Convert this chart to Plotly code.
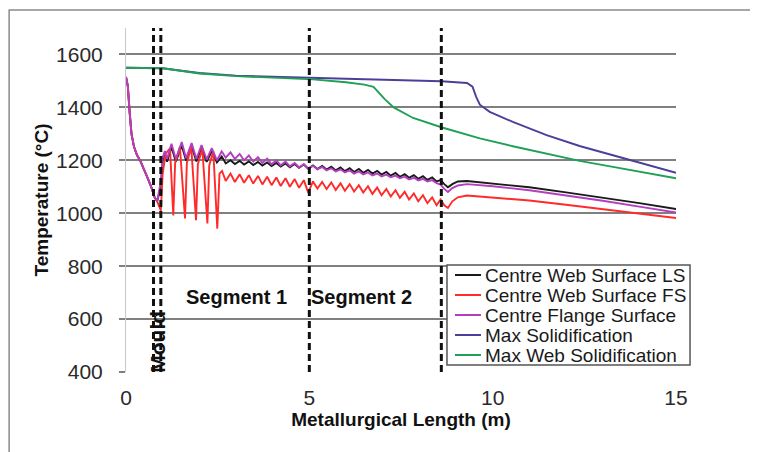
import plotly.graph_objects as go

# ---------------- data ----------------
# mould region (shared by the three surface curves)
mould_x = [0.0, 0.05, 0.10, 0.15, 0.22, 0.30, 0.40, 0.50, 0.60, 0.70, 0.78, 0.85]
mould_t = [1515, 1480, 1380, 1300, 1250, 1220, 1195, 1165, 1130, 1095, 1060, 1045]

# segment 1, first metres (large spray/roll oscillations)
red_early_x = [0.95, 1.00, 1.08, 1.20, 1.29, 1.34, 1.47, 1.61, 1.66, 1.78, 1.91, 1.96,
               2.08, 2.22, 2.27, 2.38, 2.49, 2.55, 2.62]
red_early_t = [1010, 1150, 1225, 1245, 992, 1190, 1250, 980, 1190, 1250, 974, 1185,
               1245, 961, 1180, 1235, 942, 1150, 1160]
surf_early_x = [0.95, 1.00, 1.06, 1.12, 1.24, 1.36, 1.52, 1.64, 1.79, 1.92, 2.06, 2.20,
                2.34, 2.48, 2.61]
black_early_t = [1100, 1200, 1225, 1195, 1250, 1195, 1255, 1198, 1252, 1196, 1245, 1194,
                 1235, 1192, 1215]
purple_early_t = [1120, 1210, 1235, 1205, 1263, 1205, 1269, 1208, 1265, 1205, 1258, 1203,
                  1246, 1200, 1234]

# oscillating part (trough, peak, trough, ...)
osc_x = [2.72, 2.85, 2.97, 3.10, 3.22, 3.35, 3.47, 3.60, 3.72, 3.85, 3.97, 4.10,
         4.22, 4.35, 4.47, 4.60, 4.72, 4.85, 4.97, 5.10, 5.22, 5.35, 5.47, 5.60,
         5.72, 5.85, 5.97, 6.10, 6.22, 6.35, 6.47, 6.60, 6.72, 6.85, 6.97, 7.10,
         7.22, 7.35, 7.47, 7.60, 7.72, 7.85, 7.97, 8.10, 8.22, 8.35, 8.47]
red_osc_t = [1122, 1150, 1118, 1147, 1115, 1144, 1112, 1141, 1109, 1138, 1106, 1135,
             1103, 1132, 1100, 1129, 1096, 1125, 1078, 1120, 1093, 1118, 1091, 1116,
             1088, 1113, 1085, 1110, 1082, 1106, 1078, 1102, 1073, 1097, 1068, 1092,
             1063, 1087, 1058, 1081, 1052, 1075, 1045, 1068, 1038, 1060, 1030]
black_osc_t = [1188, 1200, 1186, 1198, 1184, 1196, 1182, 1194, 1180, 1192, 1178, 1190,
               1176, 1188, 1174, 1186, 1172, 1184, 1168, 1181, 1167, 1179, 1165, 1176,
               1162, 1173, 1159, 1170, 1156, 1167, 1153, 1164, 1150, 1160, 1146, 1156,
               1142, 1152, 1138, 1148, 1134, 1144, 1130, 1140, 1126, 1135, 1120]
purple_osc_t = [1210, 1230, 1205, 1224, 1200, 1218, 1195, 1212, 1190, 1206, 1185, 1200,
                1181, 1195, 1177, 1190, 1173, 1185, 1169, 1179, 1166, 1175, 1162, 1170,
                1158, 1166, 1154, 1162, 1150, 1158, 1147, 1154, 1143, 1150, 1139, 1146,
                1136, 1142, 1132, 1138, 1128, 1134, 1124, 1130, 1120, 1125, 1114]

# segment 3 (after 8.6 m)
tail_x = [8.58, 8.68, 8.78, 8.90, 9.05, 9.30, 10.0, 11.0, 12.0, 13.0, 14.0, 15.0]
red_tail_t = [1052, 1030, 1020, 1045, 1060, 1067, 1060, 1048, 1032, 1015, 999, 982]
black_tail_t = [1125, 1110, 1098, 1110, 1120, 1122, 1113, 1098, 1079, 1059, 1038, 1016]
purple_tail_t = [1108, 1092, 1080, 1095, 1105, 1110, 1102, 1087, 1068, 1047, 1025, 1003]

# solidification curves
blue_x = [0.0, 1.0, 1.3, 2.0, 3.0, 4.2, 5.0, 6.0, 7.0, 8.0, 8.6, 9.3, 9.45, 9.55,
          9.65, 9.92, 10.55, 11.47, 12.37, 13.28, 14.2, 15.0]
blue_t = [1550, 1548, 1542, 1530, 1520, 1514, 1512, 1508, 1505, 1502, 1499, 1492, 1478,
          1440, 1410, 1383, 1345, 1295, 1254, 1219, 1185, 1153]
green_x = [0.0, 1.0, 1.3, 2.0, 3.0, 4.2, 5.1, 6.0, 6.5, 6.75, 6.9, 7.05, 7.3, 7.83,
           8.6, 9.65, 10.55, 11.47, 12.37, 13.28, 14.2, 15.0]
green_t = [1550, 1548, 1542, 1528, 1518, 1512, 1506, 1495, 1486, 1478, 1455, 1432, 1400,
           1360, 1325, 1283, 1253, 1226, 1198, 1175, 1152, 1132]

# boundaries and labels
boundary_x = [0.75, 0.95, 5.0, 8.6]
segment_labels = ["Segment 1", "Segment 2"]
segment_label_x = [3.02, 6.43]
segment_label_t = 683
mould_label = "Mould"
mould_label_x = 0.85
mould_label_t = 515

series_names = ["Centre Web Surface LS", "Centre Web Surface FS", "Centre Flange Surface",
                "Max Solidification", "Max Web Solidification"]
series_colors = ["#1a1a1a", "#ff2a2a", "#b33fc0", "#4b3f9a", "#1fa055"]

y_ticks = [400, 600, 800, 1000, 1200, 1400, 1600]
x_ticks = [0, 5, 10, 15]

FONT = "Liberation Sans, Arial, sans-serif"

# ---------------- figure ----------------
black_x = mould_x + surf_early_x + osc_x + tail_x
black_t = mould_t + black_early_t + black_osc_t + black_tail_t
red_x = mould_x + red_early_x + osc_x + tail_x
red_t = mould_t + red_early_t + red_osc_t + red_tail_t
purple_x = mould_x + surf_early_x + osc_x + tail_x
purple_t = mould_t + purple_early_t + purple_osc_t + purple_tail_t

xs = [black_x, red_x, purple_x, blue_x, green_x]
ys = [black_t, red_t, purple_t, blue_t, green_t]

fig = go.Figure()
for name, col, x, y in zip(series_names, series_colors, xs, ys):
    fig.add_trace(go.Scatter(x=x, y=y, mode="lines", name=name, showlegend=False,
                             line=dict(color=col, width=1.9)))

shapes = []
# outer frame and shadow
shapes.append(dict(type="rect", xref="paper", yref="paper", x0=-0.2125, x1=1.138,
                   y0=-0.26, y1=1.052, line=dict(color="#8a8a8a", width=1.5),
                   fillcolor="rgba(0,0,0,0)", layer="below"))
for i, op in enumerate([0.35, 0.22, 0.12, 0.06]):
    shapes.append(dict(type="line", xref="paper", yref="paper",
                       x0=1.1395 + i * 0.0036, x1=1.1395 + i * 0.0036,
                       y0=-0.26, y1=1.045 - i * 0.004,
                       line=dict(color="rgba(0,0,0,%.2f)" % op, width=2)))
for bx in boundary_x:
    shapes.append(dict(type="line", xref="x", yref="paper", x0=bx, x1=bx, y0=0, y1=1,
                       line=dict(color="#111111", width=3, dash="7px,4px")))

annotations = []
for lab, lx in zip(segment_labels, segment_label_x):
    annotations.append(dict(x=lx, y=segment_label_t, xref="x", yref="y", text="<b>%s</b>" % lab,
                            showarrow=False, font=dict(size=20, color="#111111", family=FONT)))
annotations.append(dict(x=mould_label_x, y=mould_label_t, xref="x", yref="y",
                        text="<b>%s</b>" % mould_label, textangle=-90, showarrow=False,
                        font=dict(size=21, color="#111111", family=FONT)))

# legend box (drawn in paper coordinates, one row per series)
leg_x0, leg_x1, leg_y0, leg_y1 = 0.5836, 1.0255, 0.0203, 0.311
shapes.append(dict(type="rect", xref="paper", yref="paper", x0=leg_x0, x1=leg_x1,
                   y0=leg_y0, y1=leg_y1, line=dict(color="#555555", width=1.5),
                   fillcolor="white", layer="above"))
row_step = 20 / 344
for i, (name, col) in enumerate(zip(series_names, series_colors)):
    ry = leg_y1 - (10 / 344) - i * row_step
    shapes.append(dict(type="line", xref="paper", yref="paper", x0=leg_x0 + 8 / 550,
                       x1=leg_x0 + 34 / 550, y0=ry, y1=ry, layer="above",
                       line=dict(color=col, width=2)))
    annotations.append(dict(x=leg_x0 + 36 / 550, y=ry, xref="paper", yref="paper",
                            xanchor="left", yanchor="middle", text=name, showarrow=False,
                            font=dict(size=19, color="#1a1a1a", family=FONT)))

fig.update_layout(shapes=shapes, annotations=annotations)

fig.update_layout(
    width=750, height=444,
    margin=dict(l=118, r=82, t=20, b=80, autoexpand=False),
    paper_bgcolor="white", plot_bgcolor="white",
    font=dict(family=FONT, color="#333333"),
    showlegend=False,
    xaxis=dict(range=[0, 15], tickvals=x_ticks, showgrid=False, zeroline=False,
               showline=False, ticks="", ticklabelstandoff=11, automargin=False,
               tickfont=dict(size=21, color="#2a2a2a"),
               title=dict(text="<b>Metallurgical Length (m)</b>",
                          font=dict(size=19, color="#111111"), standoff=2)),
    yaxis=dict(range=[400, 1700], tickvals=y_ticks, showgrid=True, gridcolor="#808080",
               gridwidth=2, zeroline=False, showline=True, linecolor="#c8c8c8", linewidth=1,
               ticks="outside", ticklen=6, tickcolor="#808080", tickwidth=2, automargin=False,
               ticklabelstandoff=12, tickfont=dict(size=21, color="#2a2a2a"),
               title=dict(text="<b>Temperature (°C)</b>",
                          font=dict(size=19, color="#111111"), standoff=2)),
)

fig.write_html("out.html")
